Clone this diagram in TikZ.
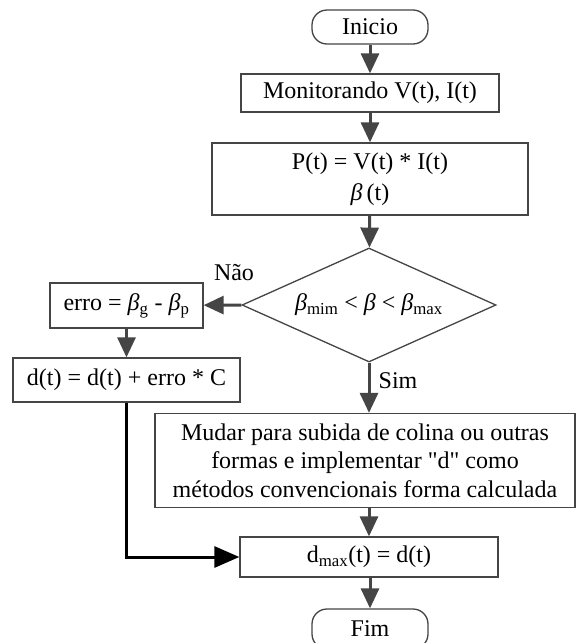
\documentclass[tikz,border=0pt]{standalone}
\usepackage{fontspec}
\setmainfont{Liberation Serif}
\usetikzlibrary{arrows.meta,shapes.geometric,positioning}
\definecolor{lc}{HTML}{454545}
\tikzset{
  box/.style={draw=lc, line width=1.3pt, fill=white, rectangle, inner sep=0pt, align=center, font=\fontsize{24}{28.5}\selectfont},
  term/.style={draw=lc, line width=1.3pt, rounded corners=15pt, inner sep=0pt, font=\fontsize{24}{26}\selectfont},
  dec/.style={draw=lc, line width=1.3pt, diamond, aspect=2.23, inner sep=0pt, minimum width=254pt, minimum height=114pt, font=\fontsize{24}{26}\selectfont},
  flow/.style={draw=lc, line width=3pt, -{Triangle[length=20pt,width=18pt]}, color=lc},
  thick flow/.style={draw=black, line width=3pt, -{Triangle[length=25pt,width=21pt]}},
  lbl/.style={font=\fontsize{24}{26}\selectfont}
}
\newcommand{\bt}{{\itshape β}}
\begin{document}
\begin{tikzpicture}[x=1pt,y=-1pt]
\useasboundingbox (0,0) rectangle (577,643);
\fill[white] (0,0) rectangle (577,643);
\node[term, minimum width=116pt, minimum height=34pt] (ini) at (370,27) {Inicio};
\node[box, minimum width=258pt, minimum height=38pt] (mon) at (370,93) {Monitorando V(t), I(t)};
\node[box, minimum width=316pt, minimum height=72pt] (pt) at (370,179) {P(t) = V(t) * I(t)\\[3pt] \bt\,(t)};
\node[dec] (dc) at (369,305) {\bt\textsubscript{mim} < \bt{} < \bt\textsubscript{max}};
\node[box, minimum width=153pt, minimum height=45pt] (err) at (126.5,305.5) {erro = \bt\textsubscript{g} - \bt\textsubscript{p}};
\node[box, minimum width=227pt, minimum height=44pt] (dt) at (126.5,380) {d(t) = d(t) + erro * C};
\node[box, minimum width=420pt, minimum height=94pt] (mud) at (365,460.5) {Mudar para subida de colina ou outras\\ formas e implementar \textquotedbl d\textquotedbl{} como\\ métodos convencionais forma calculada};
\node[box, minimum width=258pt, minimum height=40pt] (dmax) at (369,557) {d\textsubscript{max}(t) = d(t)};
\node[term, minimum width=116pt, minimum height=40pt] (fim) at (370,629) {Fim};
\node[lbl] (nao) at (234,273) {Não};
\node[lbl] (sim) at (398,381) {Sim};
\draw[flow] (ini) -- (mon);
\draw[flow] (mon) -- (pt);
\draw[flow] (pt) -- (dc);
\draw[flow] (dc.west) -- (err);
\draw[flow] (err) -- (dt);
\draw[flow] (dc.south) -- (dc.south |- mud.north);
\draw[flow] (mud.south -| dmax.north) -- (dmax);
\draw[flow] (dmax.south -| fim.north) -- (fim);
\draw[thick flow] (dt.south) |- (dmax.west);
\end{tikzpicture}
\end{document}
